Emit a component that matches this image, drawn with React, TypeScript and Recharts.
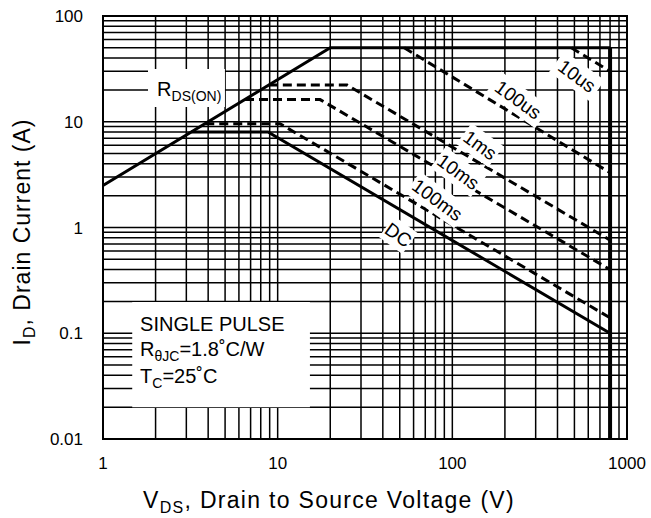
import {
  LineChart,
  Line,
  XAxis,
  YAxis,
  CartesianGrid,
  ReferenceArea,
  ReferenceDot,
  Label,
} from 'recharts';

const FONT = '"Liberation Sans", Arial, Helvetica, sans-serif';

// log grid values (every minor decade step), only decades get a label
const xTicks = [
  1, 2, 3, 4, 5, 6, 7, 8, 9,
  10, 20, 30, 40, 50, 60, 70, 80, 90,
  100, 200, 300, 400, 500, 600, 700, 800, 900, 1000,
];
const yTicks = [
  0.01, 0.02, 0.03, 0.04, 0.05, 0.06, 0.07, 0.08, 0.09,
  0.1, 0.2, 0.3, 0.4, 0.5, 0.6, 0.7, 0.8, 0.9,
  1, 2, 3, 4, 5, 6, 7, 8, 9,
  10, 20, 30, 40, 50, 60, 70, 80, 90, 100,
];
const xMajor = [1, 10, 100, 1000];
const yMajor = [0.01, 0.1, 1, 10, 100];

// SOA boundary: Rds(on) limit + pulsed current limit, then breakdown voltage
const rdsLimit = [
  { x: 1, y: 2.5 },
  { x: 20, y: 50 },
  { x: 800, y: 50 },
];
const breakdown = [
  { x: 800, y: 50 },
  { x: 800, y: 0.01 },
];
const pulse10us = [
  { x: 480, y: 50 },
  { x: 800, y: 30 },
];
const pulse100us = [
  { x: 53, y: 50 },
  { x: 800, y: 3.3 },
];
const pulse1ms = [
  { x: 8.9, y: 22.2 },
  { x: 25, y: 22.2 },
  { x: 800, y: 0.76 },
];
const pulse10ms = [
  { x: 6.5, y: 16.2 },
  { x: 17.5, y: 16.2 },
  { x: 800, y: 0.4 },
];
const pulse100ms = [
  { x: 3.85, y: 9.6 },
  { x: 10.3, y: 9.6 },
  { x: 800, y: 0.14 },
];
const dcLine = [
  { x: 3.2, y: 8 },
  { x: 8.8, y: 8 },
  { x: 800, y: 0.1 },
];

const curveLabels = [
  { text: '10us', x: 517, y: 27 },
  { text: '100us', x: 238, y: 16.1 },
  { text: '1ms', x: 144, y: 6.0 },
  { text: '10ms', x: 108, y: 3.35 },
  { text: '100ms', x: 82, y: 1.82 },
  { text: 'DC', x: 49, y: 0.85 },
];

function CurveLabel({ cx, cy, text }: { cx: number; cy: number; text: string }) {
  const w = text.length * 10.5 + 8;
  return (
    <g transform={`translate(${cx},${cy}) rotate(36)`}>
      <rect x={-w / 2} y={-13} width={w} height={26} fill="#fff" />
      <text
        textAnchor="middle"
        dominantBaseline="central"
        fontSize={19}
        fontFamily={FONT}
        fill="#000"
      >
        {text}
      </text>
    </g>
  );
}

const fmtX = (v: number) => (xMajor.includes(v) ? String(v) : '');
const fmtY = (v: number) => (yMajor.includes(v) ? String(v) : '');

export default function App() {
  const lineProps = {
    dataKey: 'y',
    stroke: '#000',
    strokeWidth: 3,
    dot: false,
    activeDot: false,
    isAnimationActive: false,
    type: 'linear' as const,
  };

  return (
    <div style={{ position: 'absolute', left: 0, top: 0 }}>
      <LineChart
        width={651}
        height={518}
        margin={{ top: 16, right: 24, bottom: 0, left: 0 }}
      >
        <CartesianGrid stroke="#000" strokeWidth={1.5} fill="none" />
        <XAxis
          dataKey="x"
          type="number"
          scale="log"
          domain={[1, 1000]}
          ticks={xTicks}
          interval={0}
          tickFormatter={fmtX}
          allowDataOverflow
          axisLine={false}
          tickLine={false}
          tickSize={0}
          tickMargin={18}
          height={79}
          tick={{ fill: '#000', fontSize: 17, fontFamily: FONT }}
        >
          <Label
            content={() => (
              <text
                x={329}
                y={508}
                textAnchor="middle"
                fontSize={23}
                letterSpacing={1.3}
                fontFamily={FONT}
                fill="#000"
              >
                V<tspan fontSize={16} dy={5}>DS</tspan>
                <tspan dy={-5}>, Drain to Source Voltage (V)</tspan>
              </text>
            )}
          />
        </XAxis>
        <YAxis
          type="number"
          scale="log"
          domain={[0.01, 100]}
          ticks={yTicks}
          interval={0}
          tickFormatter={fmtY}
          allowDataOverflow
          axisLine={false}
          tickLine={false}
          tickSize={0}
          tickMargin={20}
          width={103}
          tick={{ fill: '#000', fontSize: 17, fontFamily: FONT }}
        >
          <Label
            content={() => (
              <text
                x={30}
                y={232}
                transform="rotate(-90, 30, 232)"
                textAnchor="middle"
                fontSize={23}
                letterSpacing={1}
                fontFamily={FONT}
                fill="#000"
              >
                I<tspan fontSize={16} dy={5}>D</tspan>
                <tspan dy={-5}>, Drain Current (A)</tspan>
              </text>
            )}
          />
        </YAxis>

        <ReferenceArea
          x1={1}
          x2={1000}
          y1={0.01}
          y2={100}
          fill="none"
          stroke="#000"
          strokeWidth={2}
        />
        <ReferenceArea x1={1.81} x2={4.99} y1={13.8} y2={31.5} fill="#fff" fillOpacity={1} />
        <ReferenceArea x1={1.47} x2={15.3} y1={0.02} y2={0.197} fill="#fff" fillOpacity={1} />

        <Line {...lineProps} data={rdsLimit} />
        <Line {...lineProps} data={breakdown} strokeWidth={4} />
        <Line {...lineProps} data={pulse10us} strokeDasharray="9 5" />
        <Line {...lineProps} data={pulse100us} strokeDasharray="9 5" />
        <Line {...lineProps} data={pulse1ms} strokeDasharray="9 5" />
        <Line {...lineProps} data={pulse10ms} strokeDasharray="9 5" />
        <Line {...lineProps} data={pulse100ms} strokeDasharray="9 5" />
        <Line {...lineProps} data={dcLine} />

        <ReferenceDot
          x={2.04}
          y={17.5}
          r={0}
          ifOverflow="visible"
          zIndex={700}
          shape={(p: any) => (
            <text x={p.cx} y={p.cy} fontSize={20} fontFamily={FONT} fill="#000">
              R<tspan fontSize={14} dy={5}>DS(ON)</tspan>
            </text>
          )}
        />
        <ReferenceDot
          x={1.63}
          y={0.105}
          r={0}
          ifOverflow="visible"
          zIndex={700}
          shape={(p: any) => (
            <g fontSize={20} fontFamily={FONT} fill="#000">
              <text x={p.cx} y={p.cy}>SINGLE PULSE</text>
              <text x={p.cx} y={p.cy + 25}>
                R<tspan fontSize={14} dy={5}>θJC</tspan>
                <tspan dy={-5}>=1.8˚C/W</tspan>
              </text>
              <text x={p.cx} y={p.cy + 52}>
                T<tspan fontSize={14} dy={5}>C</tspan>
                <tspan dy={-5}>=25˚C</tspan>
              </text>
            </g>
          )}
        />
        {curveLabels.map((l) => (
          <ReferenceDot
            key={l.text}
            x={l.x}
            y={l.y}
            r={0}
            ifOverflow="visible"
            zIndex={700}
            shape={(p: any) => <CurveLabel cx={p.cx} cy={p.cy} text={l.text} />}
          />
        ))}
      </LineChart>
    </div>
  );
}
